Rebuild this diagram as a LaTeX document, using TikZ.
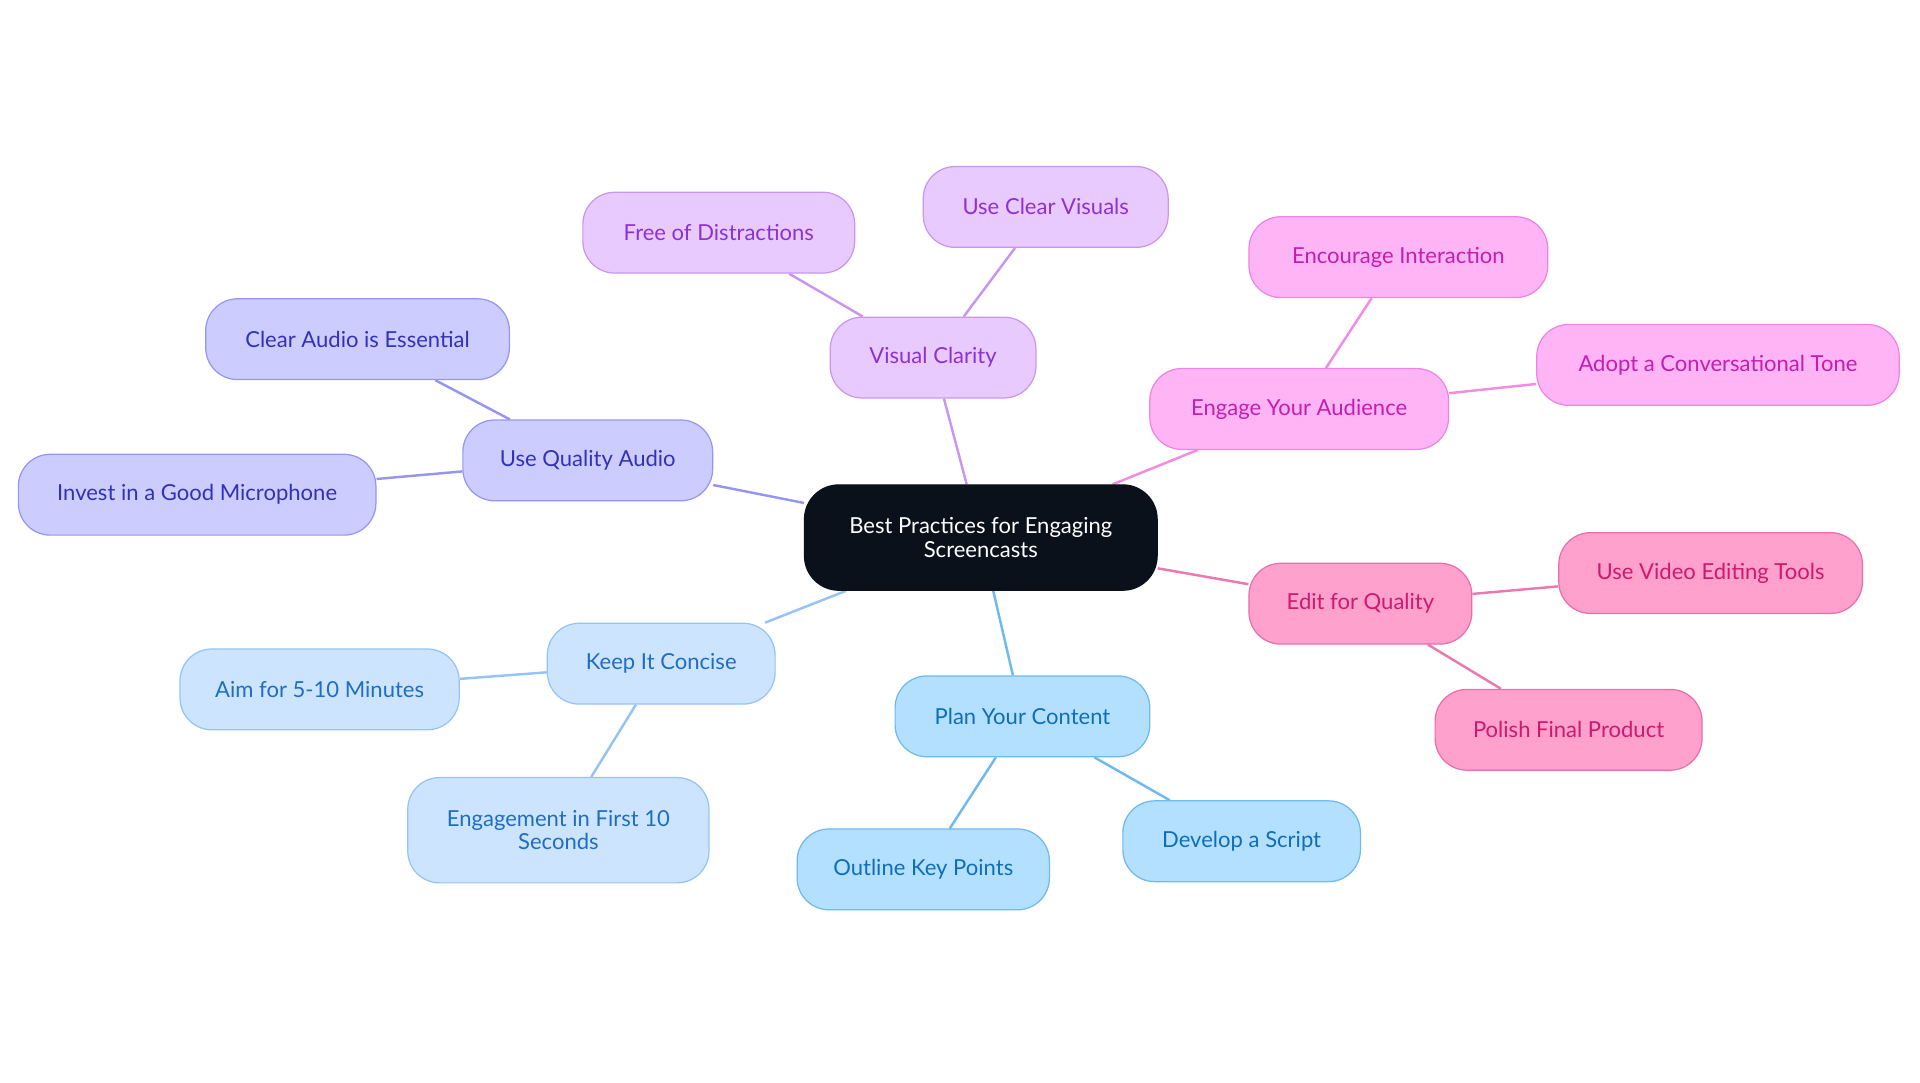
\documentclass[tikz,border=0pt]{standalone}
\usepackage{fontspec}
\setmainfont{Lato}
\begin{document}
\begin{tikzpicture}[x=1pt,y=-1pt,
 base/.style={rounded corners=26pt,minimum height=66pt,align=center,font=\fontsize{18}{19}\selectfont,line width=1pt,inner sep=2pt},
 pur/.style={base,fill=purple!0!white,fill={rgb,255:red,232;green,202;blue,255},draw={rgb,255:red,200;green,150;blue,240},text={rgb,255:red,140;green,50;blue,210}},
 pnk/.style={base,fill={rgb,255:red,255;green,180;blue,245},draw={rgb,255:red,240;green,130;blue,225},text={rgb,255:red,195;green,30;blue,175}},
 red/.style={base,fill={rgb,255:red,255;green,160;blue,205},draw={rgb,255:red,235;green,110;blue,170},text={rgb,255:red,205;green,25;blue,110}},
 blu/.style={base,fill={rgb,255:red,180;green,224;blue,255},draw={rgb,255:red,110;green,185;blue,240},text={rgb,255:red,15;green,110;blue,185}},
 lbl/.style={base,fill={rgb,255:red,205;green,228;blue,255},draw={rgb,255:red,150;green,195;blue,245},text={rgb,255:red,30;green,110;blue,195}},
 vio/.style={base,fill={rgb,255:red,204;green,204;blue,255},draw={rgb,255:red,150;green,150;blue,240},text={rgb,255:red,50;green,50;blue,185}},
 ep/.style={line width=2pt,draw={rgb,255:red,200;green,150;blue,240}},
 epk/.style={line width=2pt,draw={rgb,255:red,240;green,140;blue,225}},
 erd/.style={line width=2pt,draw={rgb,255:red,235;green,120;blue,175}},
 ebl/.style={line width=2pt,draw={rgb,255:red,110;green,185;blue,240}},
 elb/.style={line width=2pt,draw={rgb,255:red,150;green,195;blue,245}},
 evi/.style={line width=2pt,draw={rgb,255:red,150;green,150;blue,240}}]
\useasboundingbox (0,0) rectangle (1568,884);
\node[base,fill={rgb,255:red,11;green,17;blue,27},draw={rgb,255:red,11;green,17;blue,27},text=white,minimum width=288pt,minimum height=86pt,rounded corners=28pt] (c) at (801,439) {Best Practices for Engaging\\Screencasts};
\node[pur,minimum width=168pt] (vc) at (762,292) {Visual Clarity};
\node[pur,minimum width=222pt] (fd) at (587,190) {Free of Distractions};
\node[pur,minimum width=200pt] (uv) at (854,169) {Use Clear Visuals};
\node[pnk,minimum width=244pt] (ea) at (1061,334) {Engage Your Audience};
\node[pnk,minimum width=244pt] (ei) at (1142,210) {Encourage Interaction};
\node[pnk,minimum width=296pt] (ct) at (1403,298) {Adopt a Conversational Tone};
\node[red,minimum width=182pt] (eq) at (1111,493) {Edit for Quality};
\node[red,minimum width=248pt] (vt) at (1397,468) {Use Video Editing Tools};
\node[red,minimum width=218pt] (pf) at (1281,596) {Polish Final Product};
\node[blu,minimum width=208pt] (pc) at (835,585) {Plan Your Content};
\node[blu,minimum width=206pt] (ok) at (754,710) {Outline Key Points};
\node[blu,minimum width=194pt] (ds) at (1014,687) {Develop a Script};
\node[lbl,minimum width=186pt] (kc) at (540,542) {Keep It Concise};
\node[lbl,minimum width=228pt] (am) at (261,563) {Aim for 5-10 Minutes};
\node[lbl,minimum width=246pt,minimum height=86pt] (ef) at (456,678) {Engagement in First 10\\Seconds};
\node[vio,minimum width=204pt] (qa) at (480,376) {Use Quality Audio};
\node[vio,minimum width=248pt] (ca) at (292,277) {Clear Audio is Essential};
\node[vio,minimum width=292pt] (im) at (161,404) {Invest in a Good Microphone};
\begin{scope}[on background layer/.style={}]
\end{scope}
\pgfdeclarelayer{bg}\pgfsetlayers{bg,main}
\begin{pgfonlayer}{bg}
\draw[ep] (c) -- (vc); \draw[ep] (vc) -- (fd); \draw[ep] (vc) -- (uv);
\draw[epk] (c) -- (ea); \draw[epk] (ea) -- (ei); \draw[epk] (ea) -- (ct);
\draw[erd] (c) -- (eq); \draw[erd] (eq) -- (vt); \draw[erd] (eq) -- (pf);
\draw[ebl] (c) -- (pc); \draw[ebl] (pc) -- (ok); \draw[ebl] (pc) -- (ds);
\draw[elb] (c) -- (kc); \draw[elb] (kc) -- (am); \draw[elb] (kc) -- (ef);
\draw[evi] (c) -- (qa); \draw[evi] (qa) -- (ca); \draw[evi] (qa) -- (im);
\end{pgfonlayer}
\end{tikzpicture}
\end{document}
